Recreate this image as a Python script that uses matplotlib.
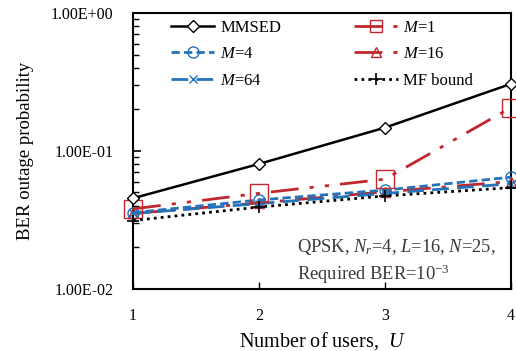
import numpy as np
from matplotlib import pyplot as plt
from matplotlib.ticker import FixedLocator, FuncFormatter, LogLocator

users = [1, 2, 3, 4]
mmsed = [0.0454, 0.0805, 0.1475, 0.306]
m1 = [0.0380, 0.0493, 0.0624, 0.206]
m4 = [0.0357, 0.0441, 0.0520, 0.0645]
m16 = [0.0352, 0.0420, 0.0505, 0.0600]
m64 = [0.0352, 0.0415, 0.0492, 0.0578]
mf_bound = [0.0313, 0.0392, 0.0472, 0.0542]

red = '#c0282d'
blue = '#2473ba'

plt.rcParams['font.family'] = ['Liberation Serif', 'DejaVu Serif']
plt.rcParams['mathtext.fontset'] = 'custom'
plt.rcParams['mathtext.rm'] = 'Liberation Serif'
plt.rcParams['mathtext.it'] = 'Liberation Serif:italic'

fig = plt.figure(figsize=(5.16, 3.51), dpi=100)
ax = fig.add_axes([0.258, 0.177, 0.732, 0.786])

common = dict(clip_on=False, mew=1.0)
h_mmsed, = ax.plot(users, mmsed, '-', color='black', lw=1.8, marker='D', ms=6,
                   mfc='white', mec='black', zorder=6, **common)
h_m1, = ax.plot(users, m1, color=red, lw=2.0, dashes=[10, 4, 1.5, 4, 1.5, 4],
                marker='s', ms=13, mfc='none', mec=red, zorder=5, **common)
h_m4, = ax.plot(users, m4, color=blue, lw=2.0, dashes=[3, 1.5],
                marker='o', ms=8, mfc='none', mec=blue, zorder=4, **common)
h_m16, = ax.plot(users, m16, color=red, lw=2.0, dashes=[10, 4, 1.5, 4],
                 marker='^', ms=7, mfc='none', mec=red, zorder=3, **common)
h_m64, = ax.plot(users, m64, color=blue, lw=2.0, dashes=[6, 3],
                 marker='x', ms=6, mec=blue, zorder=3, **common)
h_mf, = ax.plot(users, mf_bound, color='black', lw=2.0, dashes=[1, 1.5],
                marker='+', ms=9, mec='black', zorder=7,
                clip_on=False, mew=1.2)

ax.set_yscale('log')
ax.set_ylim(1e-2, 1)
ax.set_xlim(1, 4)
ax.set_xticks(users)
ax.yaxis.set_major_locator(FixedLocator([1e-2, 1e-1, 1]))
ax.yaxis.set_major_formatter(FuncFormatter(lambda v, p: '%.2E' % v))
ax.yaxis.set_minor_locator(LogLocator(base=10, subs=np.arange(2, 10)))
ax.tick_params(axis='both', which='both', direction='in', labelsize=11.5)
ax.tick_params(axis='y', which='major', length=6, width=1.2, pad=14)
ax.tick_params(axis='y', which='minor', length=4, width=1.0,
               labelleft=False)
ax.tick_params(axis='x', which='major', length=5, width=1.0, pad=14)
for s in ax.spines.values():
    s.set_linewidth(1.5)

ax.set_xlabel('Number of users,  $U$', fontsize=14.5, labelpad=4)
ax.set_ylabel('BER outage probability', fontsize=13.5, labelpad=12)

ax.text(0.435, 0.01,
        'QPSK, $N_r$=4, $L$=16, $N$=25,\nRequired BER=10$^{-3}$',
        transform=ax.transAxes, ha='left', va='bottom', fontsize=13.3,
        color='#3a3a3a', linespacing=1.3, multialignment='left')

leg = ax.legend([h_mmsed, h_m4, h_m64, h_m1, h_m16, h_mf],
                ['MMSED', '$M$=4', '$M$=64', '$M$=1', '$M$=16', 'MF bound'],
                ncol=2, loc='upper left', bbox_to_anchor=(0.1, 0.975),
                borderaxespad=0, borderpad=0, frameon=False, fontsize=12,
                handlelength=2.6, columnspacing=4.4, labelspacing=0.62,
                handletextpad=0.35)
leg.legend_handles[3].set_markersize(9)

fig.savefig('out.png', dpi=100)
